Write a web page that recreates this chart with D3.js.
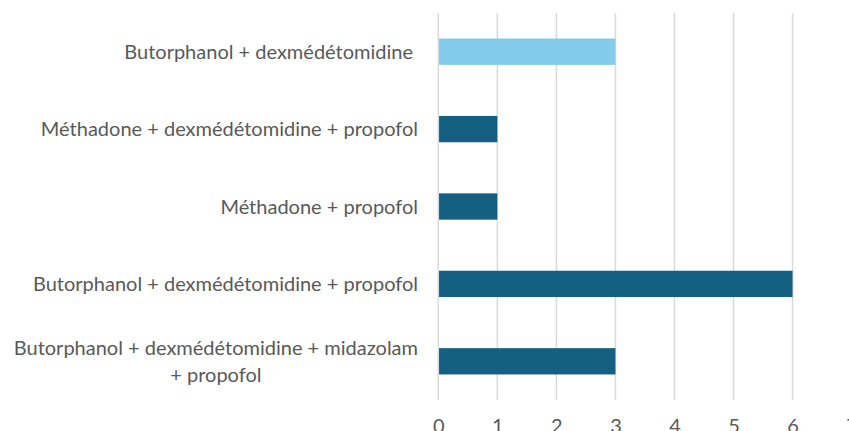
<!DOCTYPE html>
<html>
<head>
<meta charset="utf-8">
<script src="https://cdn.jsdelivr.net/npm/d3@7"></script>
<style>
  html, body { margin: 0; padding: 0; background: #fff; overflow: hidden; }
  svg { display: block; }
</style>
</head>
<body>
<svg id="chart" width="849" height="431"></svg>
<script>
const categories = [
  "Butorphanol + dexmédétomidine",
  "Méthadone + dexmédétomidine + propofol",
  "Méthadone + propofol",
  "Butorphanol + dexmédétomidine + propofol",
  "Butorphanol + dexmédétomidine + midazolam|+ propofol"
];
const values = [3, 1, 1, 6, 3];
const barColors = ["#83CBEB", "#156082", "#156082", "#156082", "#156082"];
const xTicks = [0, 1, 2, 3, 4, 5, 6, 7];

const svg = d3.select("#chart");
const m = { left: 438.3, top: 13, bottom: 400 };

const x = d3.scaleLinear().domain([0, 7]).range([m.left, 851.6]);
const y = d3.scaleBand().domain(categories).range([m.top, m.bottom]).paddingInner(0.66).paddingOuter(0.33);

const font = "Lato, 'Noto Sans', sans-serif";
const fs = "20px";
const textColor = "#595959";

// gridlines
svg.append("g")
  .selectAll("line")
  .data(xTicks)
  .join("line")
  .attr("x1", d => x(d)).attr("x2", d => x(d))
  .attr("y1", m.top).attr("y2", m.bottom)
  .attr("stroke", "#d9d9d9")
  .attr("stroke-width", 1.5);

// bars
svg.append("g")
  .selectAll("rect")
  .data(categories)
  .join("rect")
  .attr("x", x(0) + 0.75)
  .attr("y", d => y(d))
  .attr("width", (d, i) => x(values[i]) - x(0) - 0.75)
  .attr("height", y.bandwidth())
  .attr("fill", (d, i) => barColors[i]);

// x tick labels
const xAxis = d3.axisBottom(x).tickValues(xTicks).tickSize(0).tickPadding(0).tickFormat(d3.format("d"));
const gx = svg.append("g").attr("transform", `translate(0,${m.bottom})`).call(xAxis);
gx.select(".domain").remove();
gx.selectAll("text")
  .attr("y", 33)
  .attr("dy", 0)
  .attr("fill", textColor)
  .style("font-family", font)
  .style("font-size", fs);

// y category labels
const gy = svg.append("g");
categories.forEach((c, i) => {
  const lines = c.split("|");
  const cy = y(c) + y.bandwidth() / 2;
  const lh = 27;
  const t = gy.append("text")
    .attr("fill", textColor)
    .style("font-family", font)
    .style("font-size", fs);
  if (lines.length === 1) {
    t.attr("x", i === 0 ? 413 : 418)
      .attr("y", cy + 7)
      .attr("text-anchor", "end")
      .text(lines[0]);
  } else {
    const tmp = gy.append("text").style("font-family", font).style("font-size", fs).text(lines[0]);
    const w = tmp.node().getComputedTextLength();
    tmp.remove();
    const cx = 418 - w / 2;
    lines.forEach((ln, j) => {
      t.append("tspan")
        .attr("x", cx)
        .attr("y", cy + 7 + (j - (lines.length - 1) / 2) * lh)
        .attr("text-anchor", "middle")
        .text(ln);
    });
  }
});
</script>
</body>
</html>
